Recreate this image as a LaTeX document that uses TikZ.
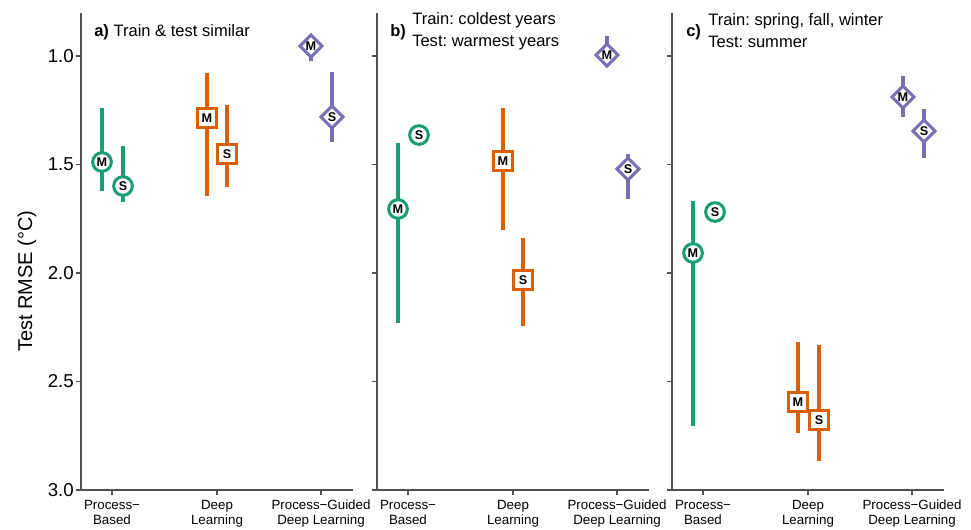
\documentclass[tikz,border=0pt]{standalone}
\usepackage{fontspec}
\setmainfont{Liberation Sans}
\usetikzlibrary{shapes.geometric}
\definecolor{pbc}{HTML}{1B9E77}
\definecolor{dlc}{HTML}{D95F02}
\definecolor{pgc}{HTML}{7570B3}
\definecolor{axc}{HTML}{505050}
\frenchspacing
\begin{document}
\begin{tikzpicture}[x=0.75pt,y=-0.75pt,
  axisline/.style={draw=axc, line width=1.5pt},
  tickline/.style={draw=axc, line width=0.9pt},
  errbar/.style={line width=2.4pt},
  mk/.style={fill=white, line width=2.3pt, inner sep=0pt, font=\bfseries\fontsize{9.5}{9.5}\selectfont},
  pbm/.style={mk, circle, draw=pbc, minimum size=14pt},
  dlm/.style={mk, rectangle, draw=dlc, minimum size=13.6pt},
  pgm/.style={mk, diamond, aspect=1, draw=pgc, minimum size=17.5pt},
  ticklab/.style={font=\fontsize{14}{14}\selectfont, anchor=east, inner sep=0pt},
  catlab/.style={font=\fontsize{10}{11.25}\selectfont, align=center, anchor=north, inner sep=0pt},
  paneltxt/.style={font=\fontsize{12.4}{16.5}\selectfont, align=left, anchor=west, inner sep=0pt},
  panellet/.style={font=\bfseries\fontsize{12.4}{16.5}\selectfont, anchor=west, inner sep=0pt},
]
\useasboundingbox (0,0) rectangle (971,529);

% axes of the three panels
\foreach \o/\p in {0/a,296/b,591/c}{
  \draw[axisline] (81+\o,13) -- (81+\o,490) -- (353+\o,490);
  \foreach \yy in {56,164.5,273,381.5,490}
    \draw[tickline] (76+\o,\yy) -- (81+\o,\yy);
  \foreach \xx in {112,217,321}
    \draw[tickline] (\xx+\o,490) -- (\xx+\o,495);
  \node[catlab] (\p cat1) at (112+\o,500) {Process−\\Based};
  \node[catlab] (\p cat2) at (217+\o,500) {Deep\\Learning};
  \node[catlab] (\p cat3) at (321+\o,500) {Process−Guided\\Deep Learning};
}

% y tick labels
\node[ticklab] (y10) at (74,56) {1.0};
\node[ticklab] (y15) at (74,164.5) {1.5};
\node[ticklab] (y20) at (74,273) {2.0};
\node[ticklab] (y25) at (74,381.5) {2.5};
\node[ticklab] (y30) at (74,490) {3.0};
\node[rotate=90, font=\fontsize{15}{15}\selectfont, inner sep=0pt] (ylab) at (27,281) {Test RMSE (°C)};

% panel titles
\node[paneltxt] (ta) at (94,32) {\textbf{a)} Train \& test similar};
\node[panellet] (lb) at (390,32) {b)};
\node[paneltxt] (tb) at (412,31) {Train: coldest years\\Test: warmest years};
\node[panellet] (lc) at (686,32) {c)};
\node[paneltxt] (tc) at (708,31) {Train: spring, fall, winter\\Test: summer};

% ---------- panel a ----------
\draw[errbar, pbc] (102,108) -- (102,191);
\draw[errbar, pbc] (123,146) -- (123,202);
\draw[errbar, dlc] (207,73) -- (207,196);
\draw[errbar, dlc] (227,105) -- (227,187);
\draw[errbar, pgc] (311,44) -- (311,61);
\draw[errbar, pgc] (332,72) -- (332,142);
\node[pbm] (aPBM) at (102,162) {M};
\node[pbm] (aPBS) at (123,186) {S};
\node[dlm] (aDLM) at (207,118) {M};
\node[dlm] (aDLS) at (227,154) {S};
\node[pgm] (aPGM) at (311,46) {M};
\node[pgm] (aPGS) at (332,117) {S};

% ---------- panel b ----------
\draw[errbar, pbc] (398,143) -- (398,323);
\draw[errbar, dlc] (503,108) -- (503,230);
\draw[errbar, dlc] (523,238) -- (523,326);
\draw[errbar, pgc] (607,36) -- (607,67);
\draw[errbar, pgc] (628,154) -- (628,199);
\node[pbm] (bPBM) at (398,209) {M};
\node[pbm] (bPBS) at (419,135) {S};
\node[dlm] (bDLM) at (503,161) {M};
\node[dlm] (bDLS) at (523,280) {S};
\node[pgm] (bPGM) at (607,55) {M};
\node[pgm] (bPGS) at (628,169) {S};

% ---------- panel c ----------
\draw[errbar, pbc] (693,201) -- (693,426);
\draw[errbar, dlc] (798,342) -- (798,433);
\draw[errbar, dlc] (819,345) -- (819,461);
\draw[errbar, pgc] (903,76) -- (903,117);
\draw[errbar, pgc] (924,109) -- (924,158);
\node[pbm] (cPBM) at (693,253) {M};
\node[pbm] (cPBS) at (715,212) {S};
\node[dlm] (cDLM) at (798,402) {M};
\node[dlm] (cDLS) at (819,420) {S};
\node[pgm] (cPGM) at (903,97) {M};
\node[pgm] (cPGS) at (924,131) {S};
\end{tikzpicture}
\end{document}
